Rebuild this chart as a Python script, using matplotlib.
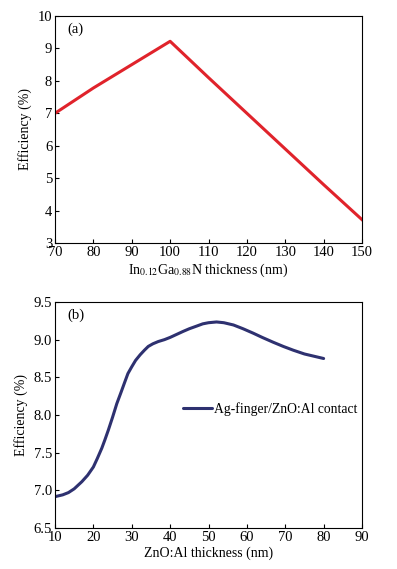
import matplotlib
matplotlib.use("Agg")
import matplotlib.pyplot as plt
import numpy as np

plt.rcParams['font.family'] = ['Liberation Serif', 'DejaVu Serif']
plt.rcParams['mathtext.fontset'] = 'stix'
plt.rcParams['font.size'] = 10.5

# Panel (a)
thick_a = [70, 80, 90, 100, 110, 120, 130, 140, 150]
eff_a = [7.0, 7.78, 8.5, 9.22, 8.1, 7.0, 5.9, 4.8, 3.72]
xticks_a = [70, 80, 90, 100, 110, 120, 130, 140, 150]
yticks_a = [3, 4, 5, 6, 7, 8, 9, 10]

# Panel (b)
thick_b = [10, 12, 13.5, 15, 17, 18.5, 20, 21, 22.2, 23, 23.9, 25, 26.1, 27.2, 28.2, 29, 30,
           31, 32.2, 33.3, 34.3, 35.5, 36.9, 38.5, 40, 41.7, 43.4, 45, 46.9, 48.5, 50, 52.1,
           54, 56.5, 59, 61.7, 64, 66.9, 69.5, 72.1, 75, 77.5, 80]
eff_b = [6.916, 6.94, 6.97, 7.02, 7.115, 7.2, 7.31, 7.42, 7.56, 7.67, 7.80, 7.97, 8.15, 8.30, 8.44, 8.55, 8.64,
         8.725, 8.80, 8.86, 8.91, 8.945, 8.975, 9.0, 9.03, 9.07, 9.11, 9.145, 9.18, 9.21, 9.225, 9.235,
         9.225, 9.195, 9.145, 9.085, 9.03, 8.965, 8.91, 8.86, 8.81, 8.78, 8.75]
xticks_b = [10, 20, 30, 40, 50, 60, 70, 80, 90]
yticks_b = [6.5, 7.0, 7.5, 8.0, 8.5, 9.0, 9.5]
legend_label = "Ag-finger/ZnO:Al contact"

W, H = 397, 569
fig = plt.figure(figsize=(W / 100, H / 100), dpi=100)

def box(l, t, r, b):
    return [l / W, 1 - b / H, (r - l) / W, (b - t) / H]

ax1 = fig.add_axes(box(55, 16, 362, 243))
ax1.plot(thick_a, eff_a, color='#e0232b', lw=2.2)
ax1.set_xlim(70, 150)
ax1.set_ylim(3, 10)
ax1.set_xticks(xticks_a)
ax1.set_yticks(yticks_a)
ax1.set_xlabel(r"In$_{0.12}$Ga$_{0.88}$N thickness (nm)", labelpad=2, fontsize=10)
ax1.set_ylabel("Efficiency (%)", labelpad=4, fontsize=10)
ax1.text(0.04, 0.94, "(a)", transform=ax1.transAxes, ha='left', va='center')

ax2 = fig.add_axes(box(55, 302, 362, 528))
ax2.plot(thick_b, eff_b, color='#2e3170', lw=2.2, label=legend_label,
         solid_joinstyle='round', solid_capstyle='round')
ax2.set_xlim(10, 90)
ax2.set_ylim(6.5, 9.5)
ax2.set_xticks(xticks_b)
ax2.set_yticks(yticks_b)
ax2.set_yticklabels([f"{v:.1f}" for v in yticks_b])
ax2.set_xlabel("ZnO:Al thickness (nm)", labelpad=2, fontsize=10)
ax2.set_ylabel("Efficiency (%)", labelpad=4, fontsize=10)
ax2.text(0.04, 0.94, "(b)", transform=ax2.transAxes, ha='left', va='center')
ax2.legend(loc='center left', bbox_to_anchor=(0.395, 0.527), frameon=False,
           handlelength=2.1, handletextpad=0.15, borderpad=0, fontsize=9.8)

for ax in (ax1, ax2):
    ax.tick_params(direction='in', length=3, width=0.8, pad=2)
    for s in ax.spines.values():
        s.set_linewidth(0.8)

fig.savefig("out.png", dpi=100)
